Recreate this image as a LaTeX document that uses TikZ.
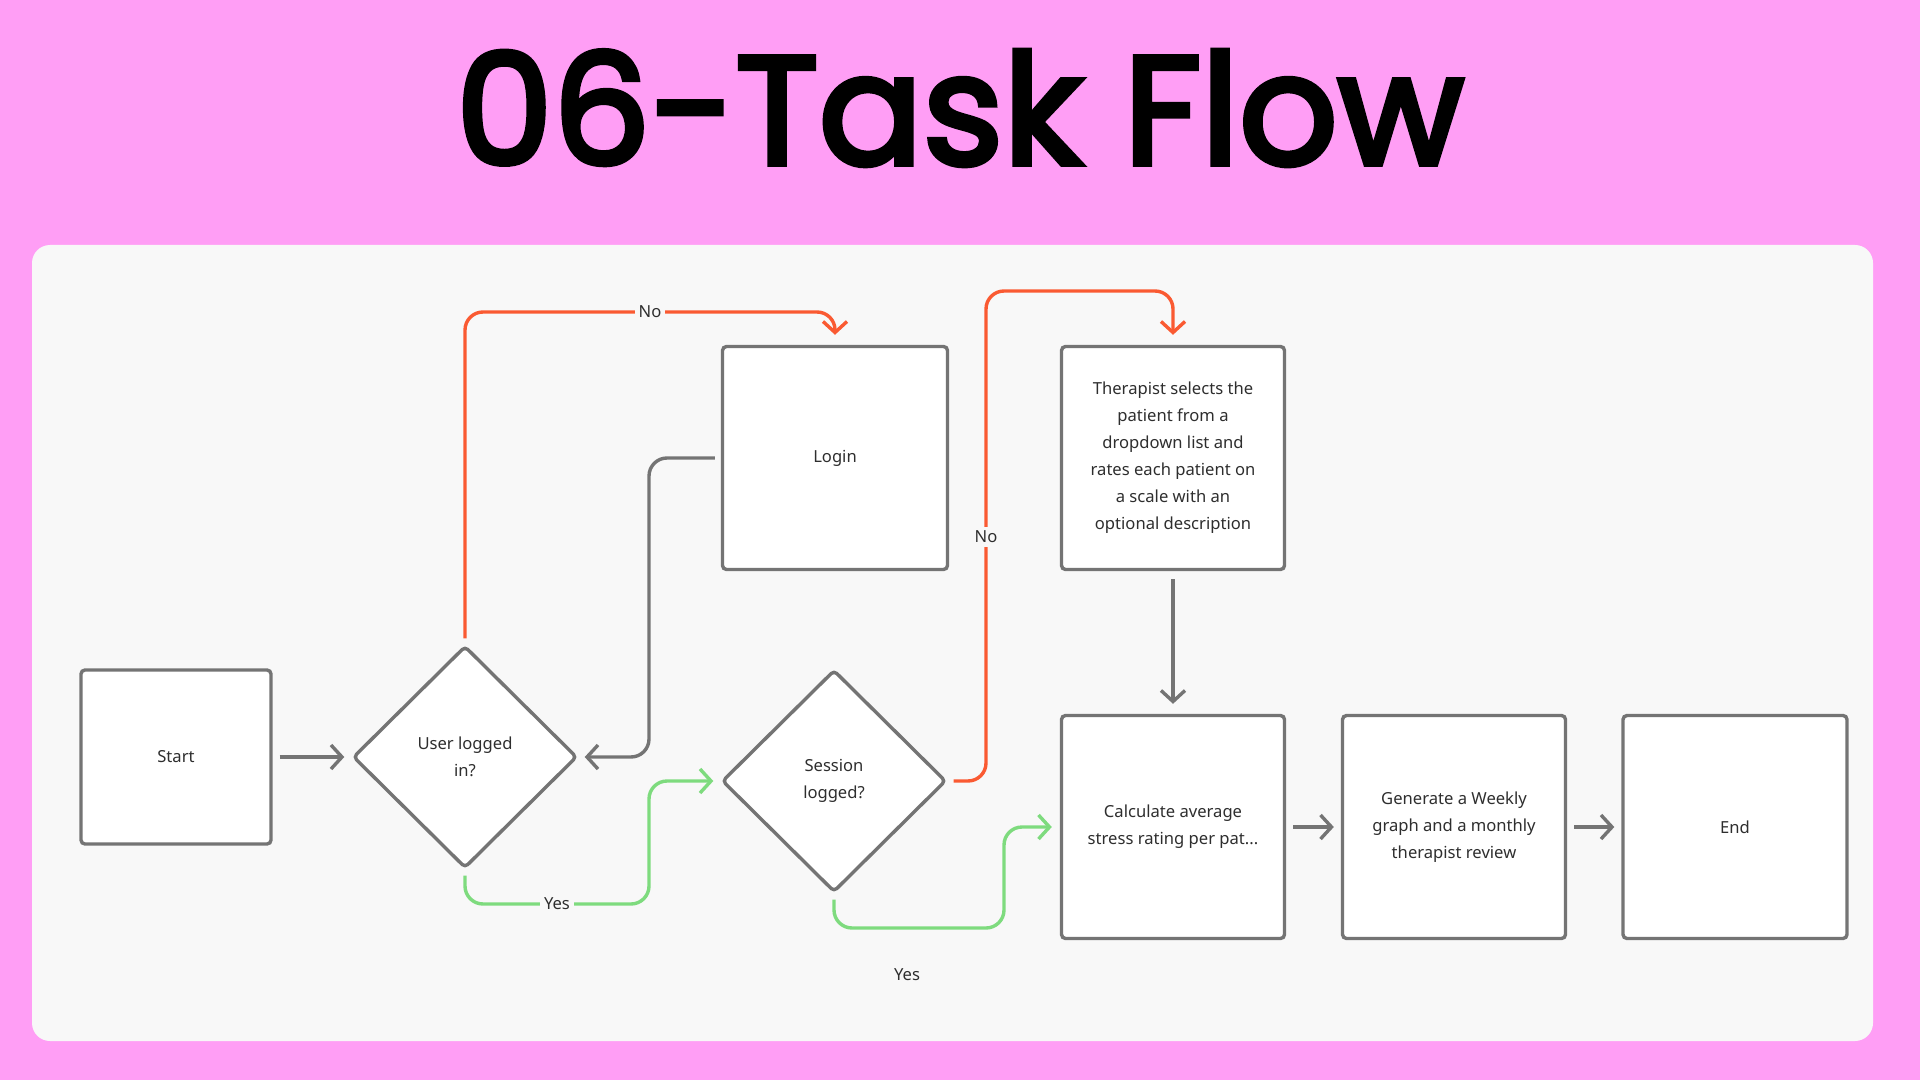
\documentclass[tikz,border=0pt]{standalone}
\usepackage{fontspec}
\setmainfont{Noto Sans}
\newfontfamily\titlefont{Poppins}[FakeBold=3.5]
\usetikzlibrary{arrows.meta,shapes.geometric,calc}
\definecolor{bgpink}{HTML}{FF9EF5}
\definecolor{panel}{HTML}{F8F8F8}
\definecolor{boxline}{HTML}{747474}
\definecolor{redline}{HTML}{FA5A32}
\definecolor{greenline}{HTML}{7EDB7E}
\definecolor{txt}{HTML}{2E2E2E}
\tikzset{
  box/.style={draw=boxline, line width=1.7pt, fill=white, rounded corners=2pt,
    minimum width=111pt, minimum height=111pt, inner sep=0pt, align=center,
    font=\fontsize{8.3}{13.5}\selectfont, text=txt},
  decision/.style={diamond, draw=boxline, line width=1.7pt, fill=white, rounded corners=2pt,
    minimum width=112pt, minimum height=111pt, inner sep=0pt, align=center,
    font=\fontsize{8.3}{13.5}\selectfont, text=txt},
  conn/.style={line width=1.7pt, rounded corners=9pt, -{Straight Barb[length=5.5pt,width=12pt,line width=1.7pt]}},
  gconn/.style={conn, draw=boxline},
  rconn/.style={conn, draw=redline},
  grconn/.style={conn, draw=greenline},
  lbl/.style={fill=panel, inner sep=2pt, font=\fontsize{8.3}{10}\selectfont, text=txt},
}
\begin{document}
\begin{tikzpicture}[x=0.5pt,y=-0.5pt]
\fill[bgpink] (0,0) rectangle (1920,1080);
\useasboundingbox (0,0) rectangle (1920,1080);
\fill[panel, rounded corners=9pt] (32,245) rectangle (1873,1041);
\node[font=\titlefont\fontsize{77}{80}\selectfont, text=black] (title) at (960,108) {06-Task Flow};

\node[box, minimum width=95pt, minimum height=87pt] (start) at (176,757) {Start};
\node[decision] (d1) at (465,757) {User logged\\in?};
\node[box, minimum width=112.5pt, minimum height=111.5pt] (login) at (835,458) {Login};
\node[decision] (d2) at (834,781) {Session\\logged?};
\node[box, minimum width=111.5pt, minimum height=111.5pt] (ther) at (1173,458) {Therapist selects the\\patient from a\\dropdown list and\\rates each patient on\\a scale with an\\optional description};
\node[box, minimum width=111.5pt, minimum height=111.5pt] (calc) at (1173,827) {Calculate average\\stress rating per pat...};
\node[box, minimum width=111.5pt, minimum height=111.5pt] (gen) at (1454,827) {Generate a Weekly\\graph and a monthly\\therapist review};
\node[box, minimum width=112pt, minimum height=111.5pt] (end) at (1735,827) {End};

\coordinate (colA) at (649,0);
\coordinate (colB) at (986,0);
\coordinate (colC) at (1004,0);
\coordinate (topA) at (0,312);
\coordinate (topB) at (0,291);
\coordinate (botA) at (0,904);
\coordinate (botB) at (0,928);

% Start -> d1
\draw[gconn, shorten <=3.5pt, shorten >=3.5pt] (start.east) -- (d1.west);
% d1 -> login (No)
\draw[rconn, shorten <=3pt, shorten >=5pt] (d1.north) |- (colA |- topA) -| (login.north);
\node[lbl] (no1) at (650,312) {No};
% login -> d1
\draw[gconn, shorten <=3pt, shorten >=3pt] (login.west) -| (colA |- d1.east) -- (d1.east);
% d1 -> d2 (Yes)
\draw[grconn, shorten <=3pt, shorten >=3.5pt] (d1.south) |- (colA |- botA) |- (d2.west);
\node[lbl] (yes1) at (557,904) {Yes};
% d2 -> therapist (No)
\draw[rconn, shorten <=3pt, shorten >=5pt] (d2.east) -| (colB |- topB) -| (ther.north);
\node[lbl] (no2) at (986,537) {No};
% d2 -> calc (Yes)
\draw[grconn, shorten <=3pt, shorten >=4pt] (d2.south) |- (colC |- botB) |- (calc.west);
\node[font=\fontsize{8.3}{10}\selectfont, text=txt] (yes2) at (907,975) {Yes};
% therapist -> calc
\draw[gconn, shorten <=4pt, shorten >=5pt] (ther.south) -- (calc.north);
% calc -> gen -> end
\draw[gconn, shorten <=3.5pt, shorten >=3.5pt] (calc.east) -- (gen.west);
\draw[gconn, shorten <=3.5pt, shorten >=3.5pt] (gen.east) -- (end.west);
\end{tikzpicture}
\end{document}
